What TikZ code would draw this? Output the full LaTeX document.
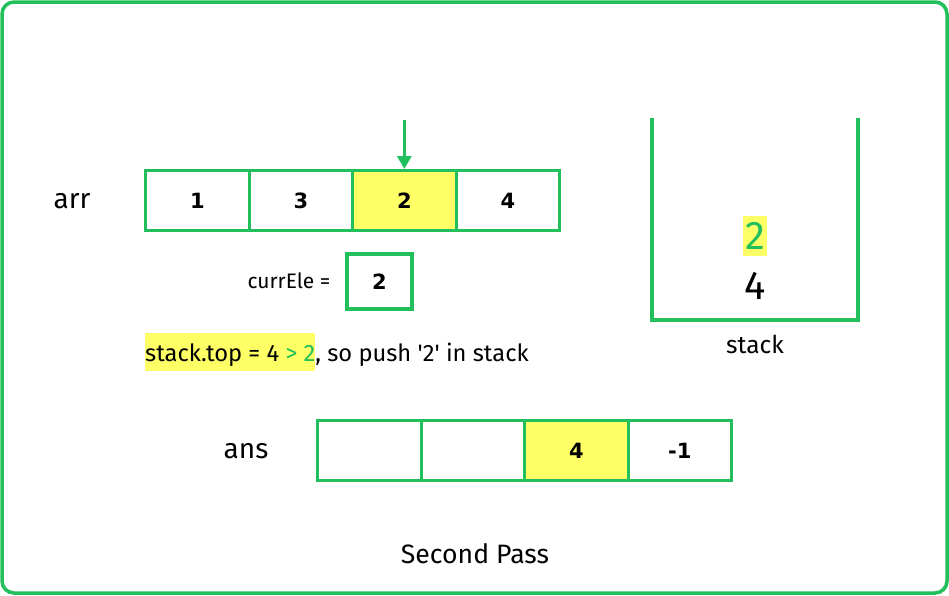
\documentclass[tikz,border=0pt]{standalone}
\usepackage{fontspec}
\usetikzlibrary{arrows.meta}
\setmainfont{Fira Sans}
\newfontfamily\cellfont{DejaVu Sans}
\definecolor{grn}{RGB}{34,192,92}
\definecolor{ylw}{RGB}{255,255,102}
\tikzset{
  cell/.style={draw=grn, line width=3.2pt, minimum width=103.5pt, minimum height=60pt, inner sep=0pt, font=\cellfont\bfseries\fontsize{21}{24}\selectfont, anchor=north west},
  hl/.style={fill=ylw},
  lbl/.style={inner sep=0pt, font=\fontsize{28}{32}\selectfont}
}
\begin{document}
\begin{tikzpicture}[x=1pt,y=-1pt]
\useasboundingbox (0,0) rectangle (949,595);
\fill[white] (0,0) rectangle (949,595);
\draw[grn, line width=3.5pt, rounded corners=12pt] (2,2) rectangle (947,593);
% arr
\node[lbl] (arrl) at (72,201) {arr};
\node[cell] (a1) at (144,169) {1};
\node[cell] (a2) at (247.5,169) {3};
\node[cell,hl] (a3) at (351,169) {2};
\node[cell] (a4) at (454.5,169) {4};
\coordinate (atop) at ([yshift=49pt]a3.north);
\draw[grn, line width=3.2pt, -{Triangle[width=14pt,length=13pt]}] (atop) -- (a3.north);
% currEle
\node[inner sep=0pt, font=\fontsize{21}{24}\selectfont] (ce) at (289,281) {currEle =};
\node[draw=grn, line width=3.2pt, minimum width=65pt, minimum height=55pt, inner sep=0pt, font=\cellfont\bfseries\fontsize{21}{24}\selectfont] (cb) at (379.5,281.5) {2};
% stack.top text
\node[inner sep=0pt, anchor=west, font=\fontsize{23.7}{27}\selectfont] (st) at (145,352) {\setlength{\fboxsep}{0pt}\colorbox{ylw}{\rule[-10pt]{0pt}{38pt}stack.top = 4 \textcolor{grn}{> 2}}, so push \textquotesingle 2\textquotesingle{} in stack};
% stack
\coordinate (sl) at (652,118);
\coordinate (sr) at (858,118);
\draw[grn, line width=4.5pt] (sl) -- (652,320) -- (858,320) -- (sr);
\node[fill=ylw, inner xsep=2pt, inner ysep=6pt, text=grn, font=\fontsize{40}{42}\selectfont] (s2) at (755,236) {2};
\node[inner sep=0pt, font=\fontsize{40}{42}\selectfont] (s4) at (755,286) {4};
\node[inner sep=0pt, font=\fontsize{24.5}{28}\selectfont] (stk) at (755,344) {stack};
% ans
\node[lbl] (ansl) at (246,451) {ans};
\node[cell] (b1) at (316,419) {};
\node[cell] (b2) at (419.5,419) {};
\node[cell,hl] (b3) at (523,419) {4};
\node[cell] (b4) at (626.5,419) {-1};
% title
\node[inner sep=0pt, font=\fontsize{26.6}{30}\selectfont] (title) at (475,554) {Second Pass};
\end{tikzpicture}
\end{document}
